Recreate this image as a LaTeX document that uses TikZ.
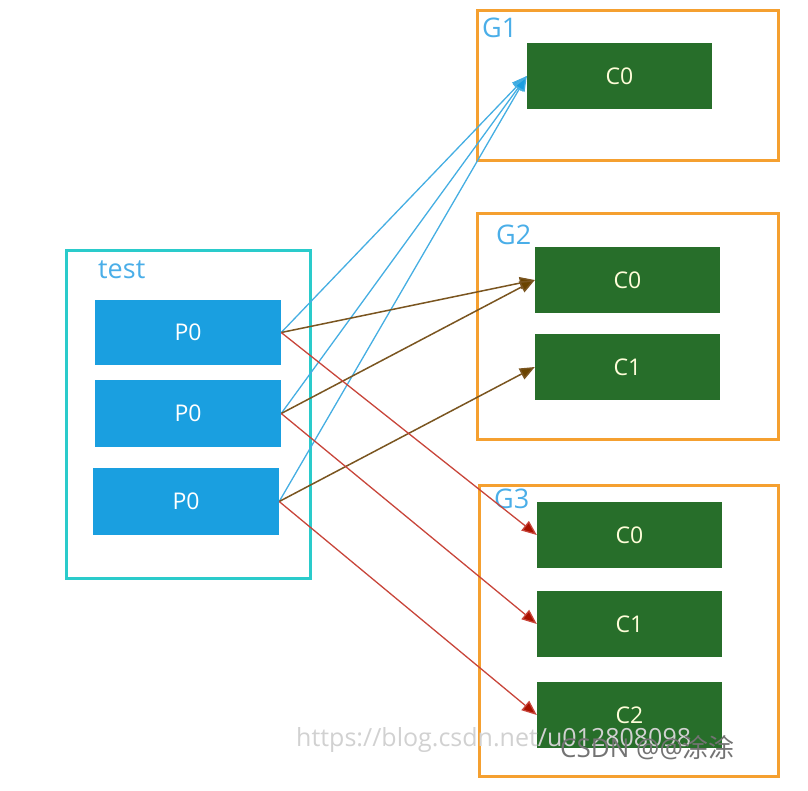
\documentclass[tikz,border=0pt]{standalone}
\usepackage{fontspec}
\setmainfont{Open Sans}
\newfontfamily\cjkfont{Noto Sans CJK SC}
\usetikzlibrary{arrows.meta}
\definecolor{pblue}{HTML}{1A9FE0}
\definecolor{cgreen}{HTML}{276E2A}
\definecolor{gorange}{HTML}{F5A030}
\definecolor{tcyan}{HTML}{2ACBCB}
\definecolor{lblue}{HTML}{4AAEE8}
\definecolor{ablue}{HTML}{45AEE2}
\definecolor{abrown}{HTML}{7A5520}
\definecolor{hbrown}{HTML}{6B4400}
\definecolor{ared}{HTML}{C8453A}
\definecolor{hred}{HTML}{AA1100}
\tikzset{
  pbox/.style={fill=pblue, draw=none, inner sep=0pt, text=white, font=\fontsize{23}{26}\selectfont},
  cbox/.style={fill=cgreen, draw=none, inner sep=0pt, text=white!85!yellow, font=\fontsize{23}{26}\selectfont},
  gframe/.style={draw=gorange, line width=3pt},
  tframe/.style={draw=tcyan, line width=3pt},
  glabel/.style={text=lblue, font=\fontsize{27}{30}\selectfont, inner sep=0pt, anchor=west},
  bluearr/.style={draw=ablue, line width=1.3pt, -{Triangle[length=15pt,width=12pt,fill=pblue]}},
  brownarr/.style={draw=abrown, line width=1.5pt, -{Triangle[length=15pt,width=12pt,fill=hbrown]}},
  redarr/.style={draw=ared, line width=1.3pt, -{Triangle[length=15pt,width=12pt,fill=hred]}},
}
\begin{document}
\begin{tikzpicture}[x=1pt,y=-1pt]
\useasboundingbox (0,0) rectangle (808,790);
% frames
\draw[tframe] (66,250) rectangle (310,578);
\node[glabel] (tl) at (98,270) {test};
\draw[gframe] (477,10) rectangle (778,160);
\node[glabel] (g1l) at (482,28) {G1};
\draw[gframe] (477,213) rectangle (778,439);
\node[glabel] (g2l) at (496,235) {G2};
\draw[gframe] (479,485) rectangle (778,776);
\node[glabel] (g3l) at (494,499) {G3};
% producers
\node[pbox, minimum width=186pt, minimum height=65pt] (pa) at (188,332.5) {P0};
\node[pbox, minimum width=186pt, minimum height=67pt] (pb) at (188,413.5) {P0};
\node[pbox, minimum width=186pt, minimum height=67pt] (pc) at (186,501.5) {P0};
% consumers
\node[cbox, minimum width=185pt, minimum height=66pt] (g1c0) at (619.5,76) {C0};
\node[cbox, minimum width=185pt, minimum height=66pt] (g2c0) at (627.5,280) {C0};
\node[cbox, minimum width=185pt, minimum height=66pt] (g2c1) at (627.5,367) {C1};
\node[cbox, minimum width=185pt, minimum height=66pt] (g3c0) at (629.5,535) {C0};
\node[cbox, minimum width=185pt, minimum height=66pt] (g3c1) at (629.5,624) {C1};
\node[cbox, minimum width=185pt, minimum height=66pt] (g3c2) at (629.5,715) {C2};
% arrows
\draw[bluearr] (pa.east) -- (g1c0.west);
\draw[bluearr] (pb.east) -- (g1c0.west);
\draw[bluearr] (pc.east) -- (g1c0.west);
\draw[brownarr] (pa.east) -- (g2c0.west);
\draw[brownarr] (pb.east) -- (g2c0.west);
\draw[brownarr] (pc.east) -- (g2c1.west);
\draw[redarr] (pa.east) -- (g3c0.west);
\draw[redarr] (pb.east) -- (g3c1.west);
\draw[redarr] (pc.east) -- (g3c2.west);
% watermark
\node[anchor=west, text=black!18, font=\fontsize{25}{28}\selectfont, inner sep=0pt] (wm1) at (296,740) {https://blog.csdn.net/u012808098};
\node[anchor=west, text=black!55, font=\fontsize{26}{28}\selectfont, inner sep=0pt] (wm2) at (560,748) {CSDN @@{\cjkfont 涂涂}};
\end{tikzpicture}
\end{document}
